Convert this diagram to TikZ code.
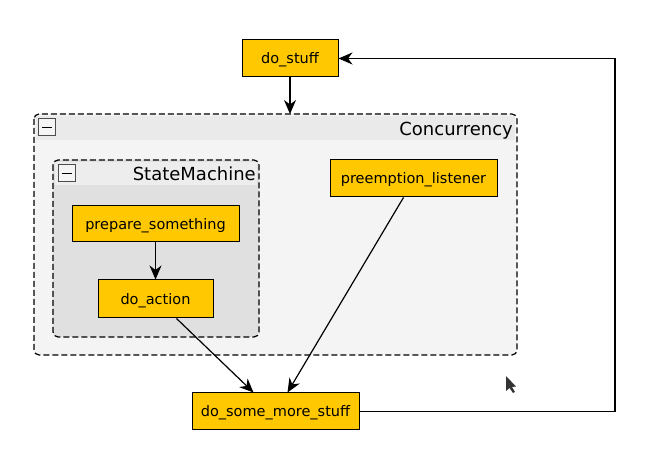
\documentclass[tikz,border=0pt]{standalone}
\usepackage{fontspec}
\setmainfont{DejaVu Sans}
\usetikzlibrary{arrows.meta}
\definecolor{nodeyel}{HTML}{FFC800}
\definecolor{hdrA}{HTML}{EAEAEA}
\definecolor{bodyA}{HTML}{F4F4F4}
\definecolor{hdrB}{HTML}{E8E8E8}
\definecolor{bodyB}{HTML}{E0E0E0}
\tikzset{
  statebox/.style={draw=black, fill=nodeyel, line width=1pt, minimum height=37pt, inner sep=0pt, text height=11pt, text depth=0pt, font=\fontsize{14.5}{17}\selectfont},
  conn/.style={-{Stealth[length=14pt,width=12pt,inset=4.5pt]}, line width=1.2pt},
  grp/.style={draw=black, dash pattern=on 6pt off 3pt, rounded corners=5pt, line width=1.2pt},
  collapsebox/.style={draw=gray!60!black, fill=gray!8, line width=1pt, minimum width=17pt, minimum height=17pt, inner sep=0pt},
  grptitle/.style={font=\fontsize{18}{20}\selectfont, anchor=base east, inner sep=0pt}
}
\begin{document}
\begin{tikzpicture}[x=1pt,y=-1pt]
\useasboundingbox (0,0) rectangle (649,454);
% Concurrency group
\fill[bodyA, rounded corners=5pt] (34,114) rectangle (517,355);
\fill[hdrA] (36,116) rectangle (515,140);
\draw[grp] (34,114) rectangle (517,355);
\node[collapsebox] (cc) at (47,127.5) {};
\draw[line width=1.6pt] ([xshift=-5pt]cc.center) -- ([xshift=5pt]cc.center);
\node[grptitle] (ctitle) at (513,135.5) {Concurrency};
\coordinate (ctop) at (290,114);
% StateMachine group
\fill[bodyB, rounded corners=5pt] (53,160) rectangle (259,337);
\fill[hdrB!60!bodyA] (55,162) rectangle (257,185);
\draw[grp] (53,160) rectangle (259,337);
\node[collapsebox] (sc) at (66.5,173.5) {};
\draw[line width=1.6pt] ([xshift=-5pt]sc.center) -- ([xshift=5pt]sc.center);
\node[grptitle] (stitle) at (256,180.5) {StateMachine};
% nodes
\node[statebox, minimum width=96pt] (dostuff) at (290,58.5) {do\_stuff};
\node[statebox, minimum width=167pt, minimum height=36pt] (prep) at (155.5,224) {prepare\_something};
\node[statebox, minimum width=115pt, minimum height=38pt] (doaction) at (155.5,299) {do\_action};
\node[statebox, minimum width=167pt] (preempt) at (413.5,178.5) {preemption\_listener};
\node[statebox, minimum width=167pt] (more) at (275.5,411.5) {do\_some\_more\_stuff};
% edges
\draw[conn] (dostuff.south) -- (ctop);
\draw[conn] (prep.south) -- (doaction.north);
\draw[conn] ([xshift=21pt]doaction.south) -- ([xshift=-22pt]more.north);
\draw[conn] ([xshift=-10pt]preempt.south) -- ([xshift=12pt]more.north);
\coordinate (r1) at (615,411.5);
\coordinate (r2) at (615,58.5);
\draw[conn] (more.east) -- (r1) -- (r2) -- (dostuff.east);
% cursor
\fill[gray!40!black] (506,376) -- (506,391) -- (509.5,388) -- (513,393) -- (515,392) -- (512,387) -- (516,386.5) -- cycle;
\end{tikzpicture}
\end{document}
